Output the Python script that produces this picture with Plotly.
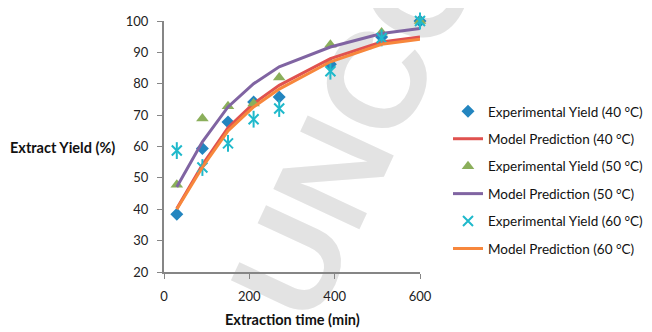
import plotly.graph_objects as go

time_min = [30, 90, 150, 210, 270, 390, 510, 600]

exp_40 = [38.4, 59.4, 67.8, 74.2, 75.8, 86.2, 94.9, 100.0]
exp_50 = [47.8, 68.9, 72.8, 73.7, 82.0, 92.4, 96.3, 100.0]
exp_60 = [58.7, 53.3, 61.0, 68.7, 72.1, 84.0, 94.6, 100.0]

model_40 = [40.2, 54.2, 66.0, 73.7, 79.5, 88.0, 93.3, 94.9]
model_50 = [47.1, 61.5, 72.6, 80.0, 85.4, 91.7, 96.0, 97.6]
model_60 = [40.0, 53.4, 65.0, 72.6, 78.3, 87.0, 92.6, 94.2]

x_ticks = [0, 200, 400, 600]
y_ticks = [20, 30, 40, 50, 60, 70, 80, 90, 100]

C_BLUE = "#2385BF"
C_RED = "#E0524F"
C_GREEN = "#8BAF5B"
C_PURPLE = "#8064A2"
C_CYAN = "#1FB9CB"
C_ORANGE = "#F7873C"

FONT = "Lato"

# page body has an 8px margin, so the figure is offset by 8px on screen
W, H = 652, 324
L, R, T, B = 156, 240, 13, 60
PW, PH = W - L - R, H - T - B

fig = go.Figure()

def grp(i):
    return f"g{i}"

fig.add_trace(go.Scatter(x=time_min, y=exp_40, mode="markers", name="Experimental Yield (40 °C)",
                         marker=dict(symbol="diamond", size=10, color=C_BLUE),
                         legendgroup=grp(1), cliponaxis=False))
fig.add_trace(go.Scatter(x=time_min, y=model_40, mode="lines", name="Model Prediction (40 °C)",
                         line=dict(color=C_RED, width=3), legendgroup=grp(2), cliponaxis=False))
fig.add_trace(go.Scatter(x=time_min, y=exp_50, mode="markers", name="Experimental Yield (50 °C)",
                         marker=dict(symbol="triangle-up", size=11, color=C_GREEN),
                         legendgroup=grp(3), cliponaxis=False))
fig.add_trace(go.Scatter(x=time_min, y=model_50, mode="lines", name="Model Prediction (50 °C)",
                         line=dict(color=C_PURPLE, width=3), legendgroup=grp(4), cliponaxis=False))
fig.add_trace(go.Scatter(x=time_min, y=exp_60, mode="markers", name="Experimental Yield (60 °C)",
                         marker=dict(symbol="x-thin-open", size=10, color=C_CYAN,
                                     line=dict(color=C_CYAN, width=2)),
                         legendgroup=grp(5), cliponaxis=False))
fig.add_trace(go.Scatter(x=time_min, y=exp_60, mode="markers", showlegend=False,
                         marker=dict(symbol="line-ns-open", size=12, color=C_CYAN,
                                     line=dict(color=C_CYAN, width=2)),
                         legendgroup=grp(5), cliponaxis=False, hoverinfo="skip"))
fig.add_trace(go.Scatter(x=time_min, y=model_60, mode="lines", name="Model Prediction (60 °C)",
                         line=dict(color=C_ORANGE, width=3), legendgroup=grp(6), cliponaxis=False))

axis_common = dict(
    showline=True, linecolor="#868686", linewidth=2,
    ticks="outside", tickcolor="#868686", ticklen=5, tickwidth=1,
    showgrid=False, zeroline=False,
    tickfont=dict(family=FONT, size=13, color="#222222"),
    ticklabelstandoff=6,
)

fig.update_xaxes(range=[0, 600], tickvals=x_ticks, **axis_common)
fig.update_yaxes(range=[20, 100], tickvals=y_ticks, **axis_common)

def px_x(sx):  # screen x -> paper x
    return (sx - 8 - L) / PW

def px_y(sy):  # screen y -> paper y
    return (H - B - (sy - 8)) / PH

# watermark behind the data
cx, cy = px_x(344), px_y(118)
fig.add_shape(type="rect", xref="paper", yref="paper", x0=cx - 0.05, x1=cx + 0.05,
              y0=cy - 0.03, y1=cy + 0.03,
              line=dict(width=0), fillcolor="rgba(0,0,0,0)", layer="below",
              label=dict(text="UNCO", textangle=-65, textposition="middle center",
                         font=dict(family="Liberation Sans", size=138, color="#E3E3E3",
                                   weight="bold")))

fig.add_annotation(text="<b>Extract Yield (%)</b>", xref="paper", yref="paper",
                   x=px_x(8), y=px_y(147), xanchor="left", yanchor="middle",
                   showarrow=False, font=dict(family=FONT, size=14.5, color="#111111"))
fig.add_annotation(text="<b>Extraction time (min)</b>", xref="paper", yref="paper",
                   x=px_x(292), y=px_y(319), xanchor="center", yanchor="middle",
                   showarrow=False, font=dict(family=FONT, size=14.5, color="#111111"))

fig.update_layout(
    width=W, height=H,
    margin=dict(l=L, r=R, t=T, b=B, autoexpand=False),
    paper_bgcolor="white", plot_bgcolor="white",
    showlegend=True,
    legend=dict(x=px_x(448), xanchor="left", y=px_y(96), yanchor="top",
                font=dict(family=FONT, size=13.5, color="#111111"),
                tracegroupgap=6.9, bgcolor="rgba(0,0,0,0)"),
)

fig.write_html("out.html")
